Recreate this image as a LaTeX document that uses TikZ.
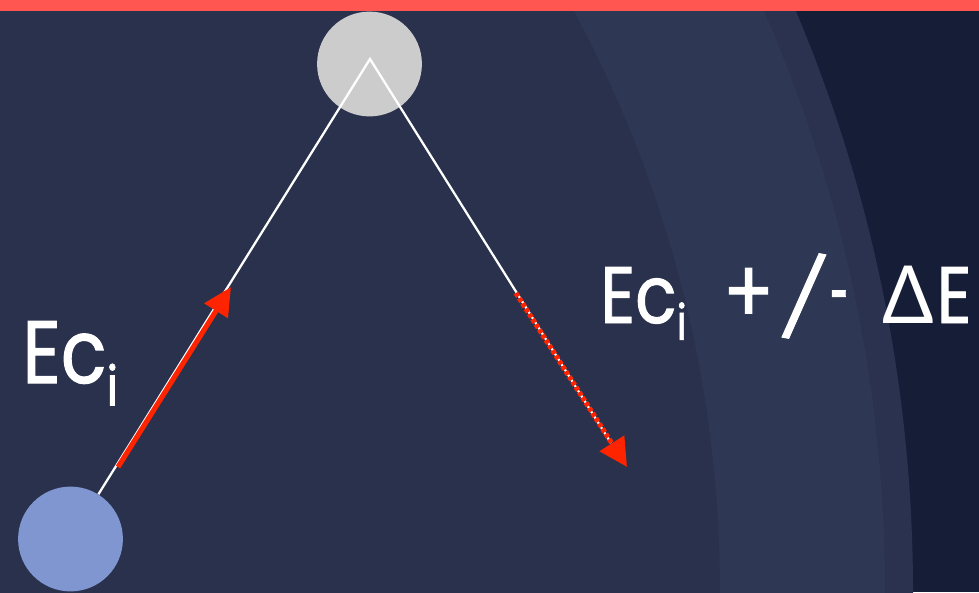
\documentclass[tikz,border=0pt]{standalone}
\usepackage{fontspec}
\setmainfont{Poppins}[FakeStretch=0.85, FakeBold=1.2]
\newfontfamily\greekfont{Lato}[FakeStretch=0.95]
\usetikzlibrary{arrows.meta}
\definecolor{slate}{HTML}{29314D}
\definecolor{slatelight}{HTML}{2E3754}
\definecolor{slatemid}{HTML}{2A3250}
\definecolor{night}{HTML}{161D37}
\definecolor{topbar}{HTML}{FF5651}
\definecolor{ballgray}{HTML}{CCCCCC}
\definecolor{ballblue}{HTML}{7F96D0}
\definecolor{hitred}{HTML}{FF2400}
\newcommand{\lowi}[2]{\raisebox{-#2}{\fontsize{#1}{#1}\selectfont i}}
\begin{document}
\begin{tikzpicture}[x=0.025cm, y=-0.025cm,
    ball/.style={circle, inner sep=0pt, minimum size=2.62cm},
    track/.style={white, line width=1.6pt},
    kick/.style={hitred, line width=3.6pt, -{Triangle[length=20pt, width=19pt]}},
    kickdots/.style={hitred, line width=3.6pt, dash pattern=on 3pt off 1.4pt,
        -{Triangle[length=20pt, width=20pt]}},
    energy/.style={white, inner sep=0pt, anchor=base west}]
    \useasboundingbox (0,0) rectangle (979,592);
    \clip (0,0) rectangle (979,592);

    \fill[night] (0,0) rectangle (979,592);
    \fill[slatemid] (-581,592) circle[radius=1494];
    \fill[slatelight] (-564,592) circle[radius=1449];
    \fill[slate] (-506,592) circle[radius=1226];
    \fill[topbar] (0,0) rectangle (979,11);

    \node[ball, fill=ballgray] (target) at (369.5,64) {};
    \node[ball, fill=ballblue] (projectile) at (70.5,539) {};

    \coordinate (apex) at (370,59);
    \coordinate (inStart) at (118,467);
    \coordinate (inTip) at (231,287);
    \coordinate (outStart) at (517,293);
    \coordinate (outEnd) at (611,443);
    \coordinate (outTip) at (627,467);

    \draw[track] (projectile) -- (apex) -- (outEnd);
    \draw[kick] (inStart) -- (inTip);
    \draw[kickdots] ([xshift=-0.8pt]outStart) -- (outTip);

    \node[energy, font=\fontsize{63}{63}\selectfont] (ecIn) at (22,383) {Ec\lowi{39pt}{16pt}};
    \node[energy, font=\fontsize{57}{57}\selectfont] (ecOut) at (600,323)
        {Ec\lowi{35pt}{12pt}\hspace{0.45em}\scalebox{1.1}{+}\hspace{0.05em}\rotatebox{-11}{\scalebox{1.1}[1]{/}}\scalebox{0.5}[1]{-}\hspace{0.42em}{\greekfont Δ}\hspace{0.03em}E};
\end{tikzpicture}
\end{document}
